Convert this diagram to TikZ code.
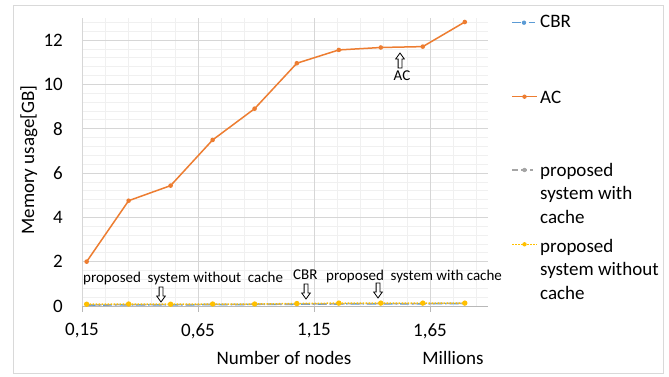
\documentclass[tikz,border=0pt]{standalone}
\usepackage{fontspec}
\setmainfont{Carlito}
\definecolor{acc}{HTML}{ED7D31}
\definecolor{cbrc}{HTML}{5B9BD5}
\definecolor{grayc}{HTML}{A5A5A5}
\definecolor{yelc}{HTML}{FFC000}
\begin{document}
\begin{tikzpicture}[x=1pt,y=-1pt,
  gridminor/.style={draw=black!6,line width=0.6pt},
  gridmajor/.style={draw=black!16,line width=0.8pt},
  axisline/.style={draw=black!28,line width=0.9pt},
  acline/.style={draw=acc,line width=1.5pt,line join=round},
  cbrline/.style={draw=cbrc,line width=1.5pt,dash pattern=on 9pt off 3pt on 1.5pt off 3pt},
  grayline/.style={draw=grayc,line width=1.5pt,dash pattern=on 6pt off 3pt},
  yelline/.style={draw=yelc,line width=1.5pt,dash pattern=on 1.5pt off 1.5pt},
  axtext/.style={font=\fontsize{19}{23.5}\selectfont,inner sep=0pt},
  legtext/.style={font=\fontsize{19}{23.5}\selectfont,inner sep=0pt,align=left},
  anno/.style={font=\fontsize{15}{18}\selectfont,inner sep=0pt},
  hollowdown/.pic={\draw[line width=0.8pt,fill=white]
    (-1.9,0) -- (-1.9,9) -- (-4.3,9) -- (0,15) -- (4.3,9) -- (1.9,9) -- (1.9,0) -- cycle;}
]
% canvas and outer frame
\useasboundingbox (0,0) rectangle (669,377);
\fill[white] (0,0) rectangle (669,377);
\draw[black!15,line width=0.8pt] (13,5) rectangle (663,373);

% plot area in data units: x in millions of nodes, y in GB
\begin{scope}[shift={(47.2,306)},x=232pt,y=22.17pt]
  % grid
  \foreach \v in {0.25,0.35,0.45,0.55,0.75,0.85,0.95,1.05,1.25,1.35,1.45,1.55,1.75,1.85}
    \draw[gridminor] (\v,0) -- (\v,13);
  \foreach \v in {0.4,0.8,1.2,1.6,2.4,2.8,3.2,3.6,4.4,4.8,5.2,5.6,6.4,6.8,7.2,7.6,8.4,8.8,9.2,9.6,10.4,10.8,11.2,11.6,12.4,12.8}
    \draw[gridminor] (0.15,\v) -- (1.9,\v);
  \foreach \v in {2,4,...,12}
    \draw[gridmajor] (0.15,\v) -- (1.9,\v);
  \foreach \v in {0.15,0.65,1.15,1.65}
    \draw[gridmajor] (\v,0) -- (\v,13);
  % horizontal axis with ticks
  \draw[axisline] (0.15,0) -- (1.9,0);
  \foreach \v in {0.15,0.65,1.15,1.65}
    \draw[axisline] (\v,0) -- ++(0,-0.25);

  % series close to zero
  \draw[cbrline] (0.170,0.04) -- (0.351,0.05) -- (0.532,0.05) -- (0.713,0.06) -- (0.894,0.07)
    -- (1.076,0.08) -- (1.257,0.09) -- (1.438,0.10) -- (1.619,0.10) -- (1.800,0.11);
  \draw[grayline] (0.170,0.05) -- (0.351,0.06) -- (0.532,0.06) -- (0.713,0.07) -- (0.894,0.08)
    -- (1.076,0.09) -- (1.257,0.10) -- (1.438,0.11) -- (1.619,0.11) -- (1.800,0.12);
  \draw[yelline] (0.170,0.08) -- (0.351,0.09) -- (0.532,0.08) -- (0.713,0.09) -- (0.894,0.09)
    -- (1.076,0.11) -- (1.257,0.13) -- (1.438,0.13) -- (1.619,0.13) -- (1.800,0.13);
  \foreach \x/\y in {0.170/0.08,0.351/0.09,0.532/0.08,0.713/0.09,0.894/0.09,1.076/0.11,1.257/0.13,1.438/0.13,1.619/0.13,1.800/0.13}
    \fill[yelc] (\x,\y) circle (2.7pt);

  % AC series
  \draw[acline] (0.170,2.0) -- (0.351,4.75) -- (0.532,5.43) -- (0.713,7.49) -- (0.894,8.9)
    -- (1.076,10.95) -- (1.257,11.55) -- (1.438,11.66) -- (1.619,11.70) -- (1.800,12.81);
  \foreach \x/\y in {0.170/2.0,0.351/4.75,0.532/5.43,0.713/7.49,0.894/8.9,1.076/10.95,1.257/11.55,1.438/11.66,1.619/11.70,1.800/12.81}
    \fill[acc] (\x,\y) circle (2.3pt);

  % tick labels
  \foreach \v in {0,2,...,12}
    \node[axtext,anchor=east] (yt\v) at ([xshift=-19pt]0.15,\v) {\v};
  \foreach \v/\t in {0.15/{0,15},0.65/{0,65},1.15/{1,15},1.65/{1,65}}
    \node[axtext,anchor=center] (xt\v) at ([yshift=-25pt]\v,0) {\t};
\end{scope}

% axis titles
\node[axtext] (xtitle) at (284,358) {Number of nodes};
\node[axtext] (xunit) at (453,358) {Millions};
\node[axtext,rotate=90] (ytitle) at (29,160) {Memory usage[GB]};

% labels placed inside the plot
\node[anno,anchor=base west] (lblnocache) at (83,282) {proposed\hspace{0.45em}system without\hspace{0.45em}cache};
\node[anno,anchor=base west] (lblcbr) at (293,279) {CBR};
\node[anno,anchor=base west] (lblcache) at (326,280) {proposed\hspace{0.45em}system with cache};
\node[anno,anchor=base] (lblac) at (402,81) {AC};
\pic at (161,287) {hollowdown};
\pic at (306,284) {hollowdown};
\pic at (378,283) {hollowdown};
\pic[yscale=-1] at (400,68) {hollowdown};

% legend (multi-line entries are anchored at the baseline of their last line)
\draw[cbrline] (512,22.7) -- (535,22.7);
\fill[cbrc] (524,22.7) circle (2.2pt);
\node[legtext,anchor=base west] (legcbr) at (540,28) {CBR};
\draw[acline] (512,96.7) -- (537,96.7);
\fill[acc] (524.5,96.7) circle (2.2pt);
\node[legtext,anchor=base west] (legac) at (540,104) {AC};
\draw[grayline] (512,170) -- (533,170);
\fill[grayc] (524.5,170) circle (2.2pt);
\node[legtext,anchor=base west] (leggray) at (540,223) {proposed\\system with\\cache};
\draw[yelline] (512,244.3) -- (537,244.3);
\fill[yelc] (524.5,244.3) circle (2.2pt);
\node[legtext,anchor=base west] (legyel) at (540,299) {proposed\\system without\\cache};
\end{tikzpicture}
\end{document}
